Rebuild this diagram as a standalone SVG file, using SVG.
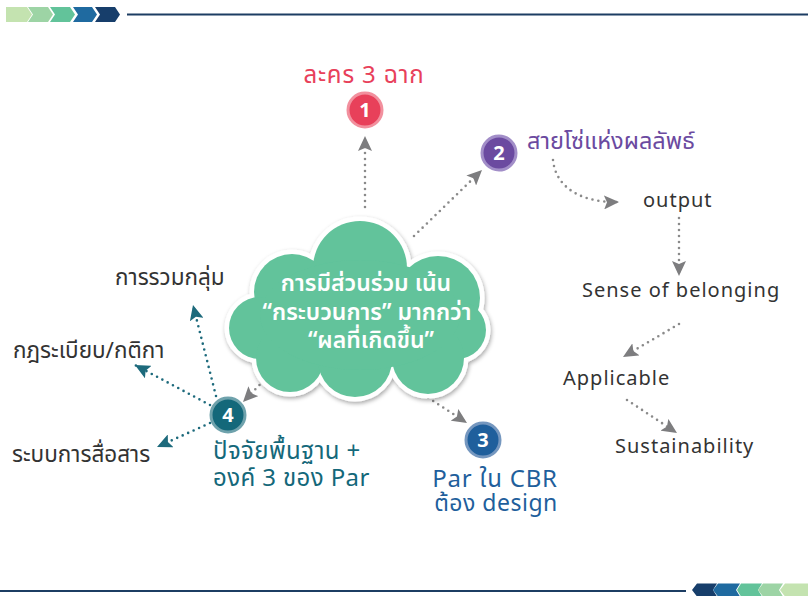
<svg xmlns="http://www.w3.org/2000/svg" xmlns:xlink="http://www.w3.org/1999/xlink" width="808" height="596" viewBox="0 0 808 596">
<style>
.th{font-family:"Noto Sans Thai","Noto Sans Thai Looped","Noto Sans","DejaVu Sans",sans-serif;}
.en{font-family:"Noto Sans","Open Sans","DejaVu Sans",sans-serif;letter-spacing:1px;}
.lbl{font-size:22.5px;fill:#333;}
.en.lbl{font-size:20px;}
.dot{fill:none;stroke:#8a8a8a;stroke-width:2.6;stroke-dasharray:0 6;stroke-linecap:round;}
.dot.teal{stroke:#1d6a7c;}
.num{font-family:"Noto Sans","Open Sans",sans-serif;font-size:20px;font-weight:bold;fill:#fff;text-anchor:middle;}
.cl{font-size:23px;font-weight:600;fill:#fff;text-anchor:middle;}
.nl{font-size:24px;}
</style>
<defs>
<marker id="ag" markerUnits="userSpaceOnUse" markerWidth="16" markerHeight="14" refX="15" refY="7" orient="auto"><path d="M0,0 L15,7 L0,14 L3,7 z" fill="#7d7d7f"/></marker>
<marker id="at" markerUnits="userSpaceOnUse" markerWidth="16" markerHeight="14" refX="15" refY="7" orient="auto"><path d="M0,0 L15,7 L0,14 L3,7 z" fill="#1d6a7c"/></marker>
<filter id="sh" x="-20%" y="-20%" width="140%" height="140%"><feDropShadow dx="1" dy="2" stdDeviation="2" flood-color="#000" flood-opacity="0.35"/></filter>
<g id="cloudShape">
<circle cx="360" cy="268" r="47"/>
<circle cx="292" cy="292" r="38"/>
<circle cx="438" cy="298" r="42"/>
<circle cx="260" cy="328" r="31"/>
<circle cx="457" cy="330" r="29"/>
<circle cx="290" cy="358" r="34"/>
<circle cx="355" cy="360" r="37"/>
<circle cx="428" cy="358" r="36"/>
<ellipse cx="360" cy="315" rx="100" ry="55"/>
</g>
</defs>
<rect width="808" height="596" fill="#fff"/>
<g id="header">
<path d="M6,7 H27 L32,14.5 L27,22 H6 Z" fill="#c4e3b0"/>
<path d="M28,7 H48 L53,14.5 L48,22 H28 L33,14.5 Z" fill="#9dd4a5"/>
<path d="M50,7 H70 L75,14.5 L70,22 H50 L55,14.5 Z" fill="#62c39a"/>
<path d="M73,7 H92 L97,14.5 L92,22 H73 L78,14.5 Z" fill="#1f6aa0"/>
<path d="M95,7 H115 L120,14.5 L115,22 H95 L100,14.5 Z" fill="#173e6b"/>
<line x1="127" y1="14.5" x2="808" y2="14.5" stroke="#1c3d63" stroke-width="2"/>
</g>
<g id="footer">
<line x1="0" y1="591" x2="686" y2="591" stroke="#1c3d63" stroke-width="2"/>
<path d="M717,583.5 H697 L692,590 L697,596.5 H717 L713,590 Z" fill="#173e6b"/>
<path d="M740,583.5 H718 L713,590 L718,596.5 H740 L736,590 Z" fill="#1f6aa0"/>
<path d="M762,583.5 H741 L737,590 L741,596.5 H762 L758,590 Z" fill="#62c39a"/>
<path d="M783,583.5 H763 L758,590 L763,596.5 H783 L779,590 Z" fill="#9dd4a5"/>
<path d="M808,583.5 H785 L780,590 L785,596.5 H808 Z" fill="#c4e3b0"/>
</g>
<g id="connectors">
<path class="dot" d="M365,207 L365,136" marker-end="url(#ag)"/>
<path class="dot" d="M414,236 L482,170" marker-end="url(#ag)"/>
<path class="dot" d="M553,160 C556,190 585,203 619,202" marker-end="url(#ag)"/>
<path class="dot" d="M679,218 L679,276" marker-end="url(#ag)"/>
<path class="dot" d="M679,324 L623,357" marker-end="url(#ag)"/>
<path class="dot" d="M627,400 L677,433" marker-end="url(#ag)"/>
<path class="dot" d="M398,378 L467,423" marker-end="url(#ag)"/>
<path class="dot" d="M272,372 L243,402" marker-end="url(#ag)"/>
<path class="dot teal" d="M216,396 L193,305" marker-end="url(#at)"/>
<path class="dot teal" d="M210,405 L135,365" marker-end="url(#at)"/>
<path class="dot teal" d="M210,423 L157,447" marker-end="url(#at)"/>
</g>
<g id="cloud">
<g filter="url(#sh)">
<use xlink:href="#cloudShape" fill="#fff" stroke="#fff" stroke-width="9"/>
<use xlink:href="#cloudShape" fill="#62c39b"/>
</g>
<text class="th cl" x="366" y="291">การมีส่วนร่วม เน้น</text>
<text class="th cl" x="367" y="320">“กระบวนการ” มากกว่า</text>
<text class="th cl" x="371" y="348">“ผลที่เกิดขึ้น”</text>
</g>
<g id="n1">
<circle cx="365" cy="110" r="17" fill="#e8405a" stroke="#f2909e" stroke-width="3"/>
<text class="num" x="365" y="117">1</text>
<text class="th nl" x="364" y="83" fill="#e8405a" text-anchor="middle" letter-spacing="0.8">ละคร 3 ฉาก</text>
</g>
<g id="n2">
<circle cx="499" cy="153" r="17" fill="#6b4aa0" stroke="#a28ec8" stroke-width="3"/>
<text class="num" x="499" y="160">2</text>
<text class="th" x="527" y="149" font-size="23.5" fill="#6b4aa0">สายโซ่แห่งผลลัพธ์</text>
</g>
<g id="n3">
<circle cx="483" cy="440" r="17" fill="#1f5f9c" stroke="#7597bf" stroke-width="3"/>
<text class="num" x="483" y="447">3</text>
<text class="th nl" x="495" y="487" fill="#1f5f9c" text-anchor="middle" letter-spacing="0.8">Par ใน CBR</text>
<text class="th" x="496" y="511" font-size="23" fill="#1f5f9c" text-anchor="middle" letter-spacing="0.5">ต้อง design</text>
</g>
<g id="n4">
<circle cx="228" cy="415" r="17" fill="#14687a" stroke="#6fa2ac" stroke-width="3"/>
<text class="num" x="228" y="422">4</text>
<text class="th nl" x="213" y="459" fill="#14687a" letter-spacing="0.4">ปัจจัยพื้นฐาน +</text>
<text class="th nl" x="213" y="486" fill="#14687a" letter-spacing="0.4">องค์ 3 ของ Par</text>
</g>
<g id="l-group"><text class="th lbl" x="115" y="285">การรวมกลุ่ม</text></g>
<g id="l-rules"><text class="th lbl" x="13" y="358">กฎระเบียบ/กติกา</text></g>
<g id="l-comm"><text class="th lbl" x="12" y="462">ระบบการสื่อสาร</text></g>
<g id="output"><text class="en lbl" x="643" y="207">output</text></g>
<g id="belonging"><text class="en lbl" x="582" y="297">Sense of belonging</text></g>
<g id="applicable"><text class="en lbl" x="563" y="385">Applicable</text></g>
<g id="sustain"><text class="en lbl" x="615" y="453">Sustainability</text></g>
</svg>
